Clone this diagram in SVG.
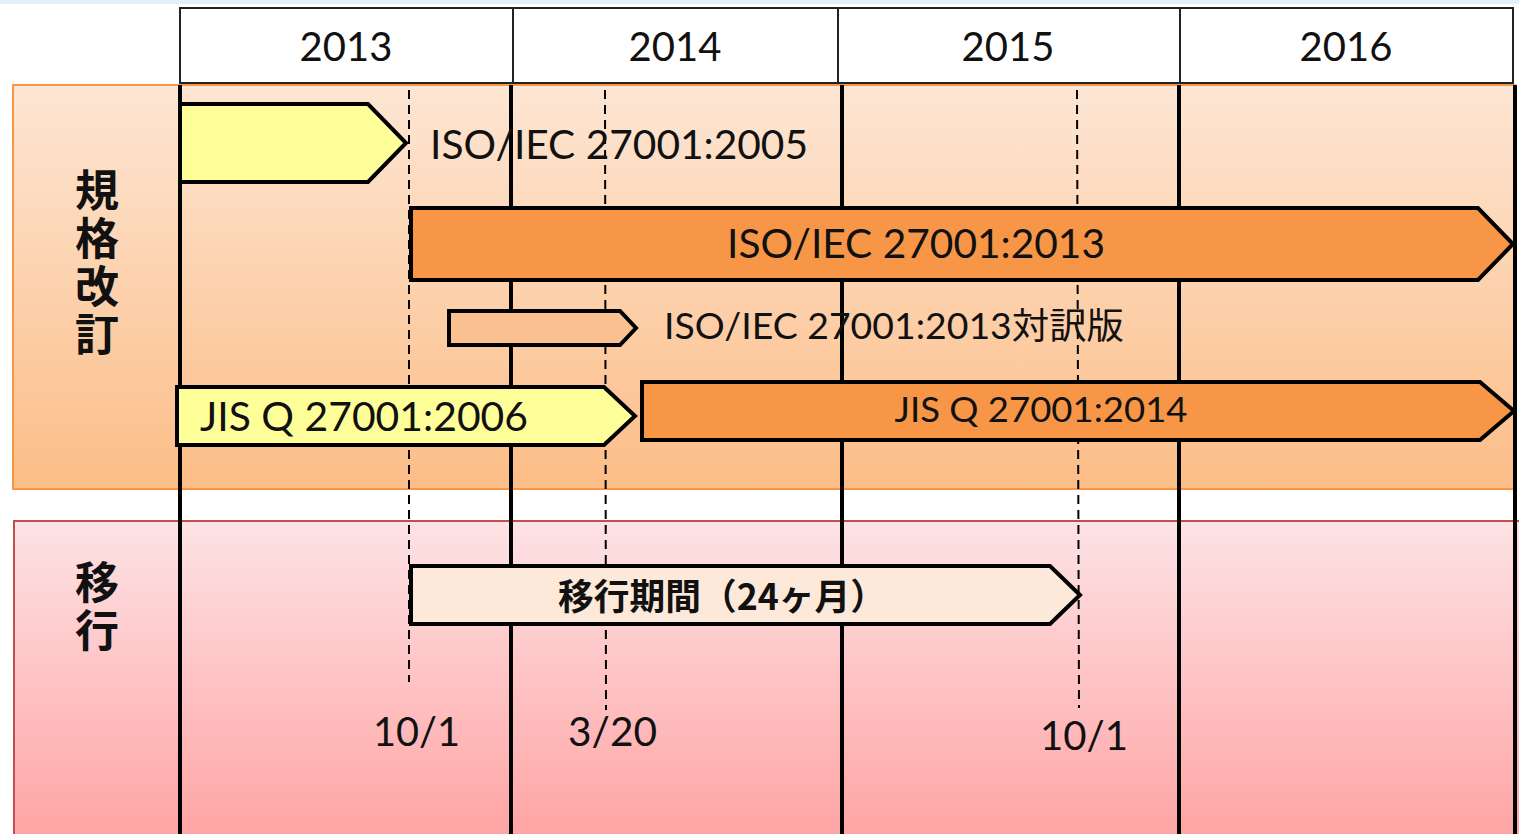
<svg xmlns="http://www.w3.org/2000/svg" width="1519" height="834" viewBox="0 0 1519 834">
<defs>
<linearGradient id="gOr" x1="0" y1="0" x2="0" y2="1">
<stop offset="0" stop-color="#fde6d4"/>
<stop offset="1" stop-color="#fcbd87"/>
</linearGradient>
<linearGradient id="gPk" x1="0" y1="0" x2="0" y2="1">
<stop offset="0" stop-color="#fde3e5"/>
<stop offset="1" stop-color="#ffa3a3"/>
</linearGradient>
<style>
.lat{font-family:Lato,"Liberation Sans","Noto Sans CJK JP",sans-serif;fill:#111}
.jp{font-family:"Noto Sans CJK JP",sans-serif;font-weight:bold;fill:#111}
.vt{writing-mode:vertical-rl;text-orientation:upright;letter-spacing:4px}
.box{stroke:#000;stroke-width:4;stroke-linejoin:miter}
.vl{stroke:#000;stroke-width:4}
.dl{stroke:#000;stroke-width:2;stroke-dasharray:9,6}
</style>
</defs>
<rect x="0" y="0" width="1519" height="4" fill="#e2f0fa"/>
<g id="header">
<rect x="180" y="8" width="1333" height="75" fill="#fff" stroke="#222" stroke-width="2"/>
<line x1="513" y1="8" x2="513" y2="83" stroke="#222" stroke-width="2"/>
<line x1="838" y1="8" x2="838" y2="83" stroke="#222" stroke-width="2"/>
<line x1="1180" y1="8" x2="1180" y2="83" stroke="#222" stroke-width="2"/>
<text class="lat" x="346" y="61" font-size="40" text-anchor="middle">2013</text>
<text class="lat" x="675" y="61" font-size="40" text-anchor="middle">2014</text>
<text class="lat" x="1008" y="61" font-size="40" text-anchor="middle">2015</text>
<text class="lat" x="1346" y="61" font-size="40" text-anchor="middle">2016</text>
</g>
<g id="panel-kikaku">
<rect x="13" y="85" width="1502" height="404" fill="url(#gOr)" stroke="#f79646" stroke-width="2"/>
<text class="jp vt" x="97" y="168" font-size="44">規格改訂</text>
</g>
<g id="panel-ikou">
<rect x="14" y="521" width="1510" height="320" fill="url(#gPk)" stroke="#c0504d" stroke-width="2"/>
<text class="jp vt" x="97" y="560" font-size="44">移行</text>
</g>
<g id="connectors">
<line class="vl" x1="180" y1="85" x2="180" y2="834"/>
<line class="vl" x1="511" y1="85" x2="511" y2="834"/>
<line class="vl" x1="842" y1="85" x2="842" y2="834"/>
<line class="vl" x1="1179" y1="85" x2="1179" y2="834"/>
<line class="vl" x1="1515" y1="85" x2="1515" y2="834"/>
<line class="dl" x1="409" y1="90" x2="409" y2="682"/>
<line class="dl" x1="605" y1="90" x2="606" y2="710"/>
<line class="dl" x1="1077" y1="90" x2="1079" y2="708"/>
</g>
<g id="iso2005">
<polygon class="box" points="180,104 368,104 406,143 368,182 180,182" fill="#ffff99"/>
<text class="lat" x="430" y="159" font-size="40" textLength="378" lengthAdjust="spacingAndGlyphs">ISO/IEC 27001:2005</text>
</g>
<g id="iso2013">
<polygon class="box" points="411,208 1478,208 1513,244 1478,280 411,280" fill="#f79646"/>
<text class="lat" x="916" y="258" font-size="40" text-anchor="middle" textLength="378" lengthAdjust="spacingAndGlyphs">ISO/IEC 27001:2013</text>
</g>
<g id="iso2013jp">
<polygon class="box" points="449,311 620,311 636,328 620,345 449,345" fill="#fac090"/>
<text class="lat" x="664" y="339" font-size="36" textLength="460" lengthAdjust="spacingAndGlyphs">ISO/IEC 27001:2013対訳版</text>
</g>
<g id="jis2006">
<polygon class="box" points="177,387 604,387 635,416 604,445 177,445" fill="#ffff99"/>
<text class="lat" x="200" y="431" font-size="40" textLength="328" lengthAdjust="spacingAndGlyphs">JIS Q 27001:2006</text>
</g>
<g id="jis2014">
<polygon class="box" points="642,382 1480,382 1514,411 1480,440 642,440" fill="#f79646"/>
<text class="lat" x="1041" y="422" font-size="34" text-anchor="middle" textLength="293" lengthAdjust="spacingAndGlyphs">JIS Q 27001:2014</text>
</g>
<g id="transition">
<polygon class="box" points="411,566 1050,566 1080,595 1050,624 411,624" fill="#fde9d9"/>
<text class="jp" x="558" y="610" font-size="36" textLength="328" lengthAdjust="spacingAndGlyphs">移行期間（24ヶ月）</text>
</g>
<g id="dates">
<text class="lat" x="373" y="746" font-size="40" textLength="87" lengthAdjust="spacingAndGlyphs">10/1</text>
<text class="lat" x="568" y="746" font-size="40" textLength="89" lengthAdjust="spacingAndGlyphs">3/20</text>
<text class="lat" x="1040" y="750" font-size="40" textLength="88" lengthAdjust="spacingAndGlyphs">10/1</text>
</g>
</svg>
